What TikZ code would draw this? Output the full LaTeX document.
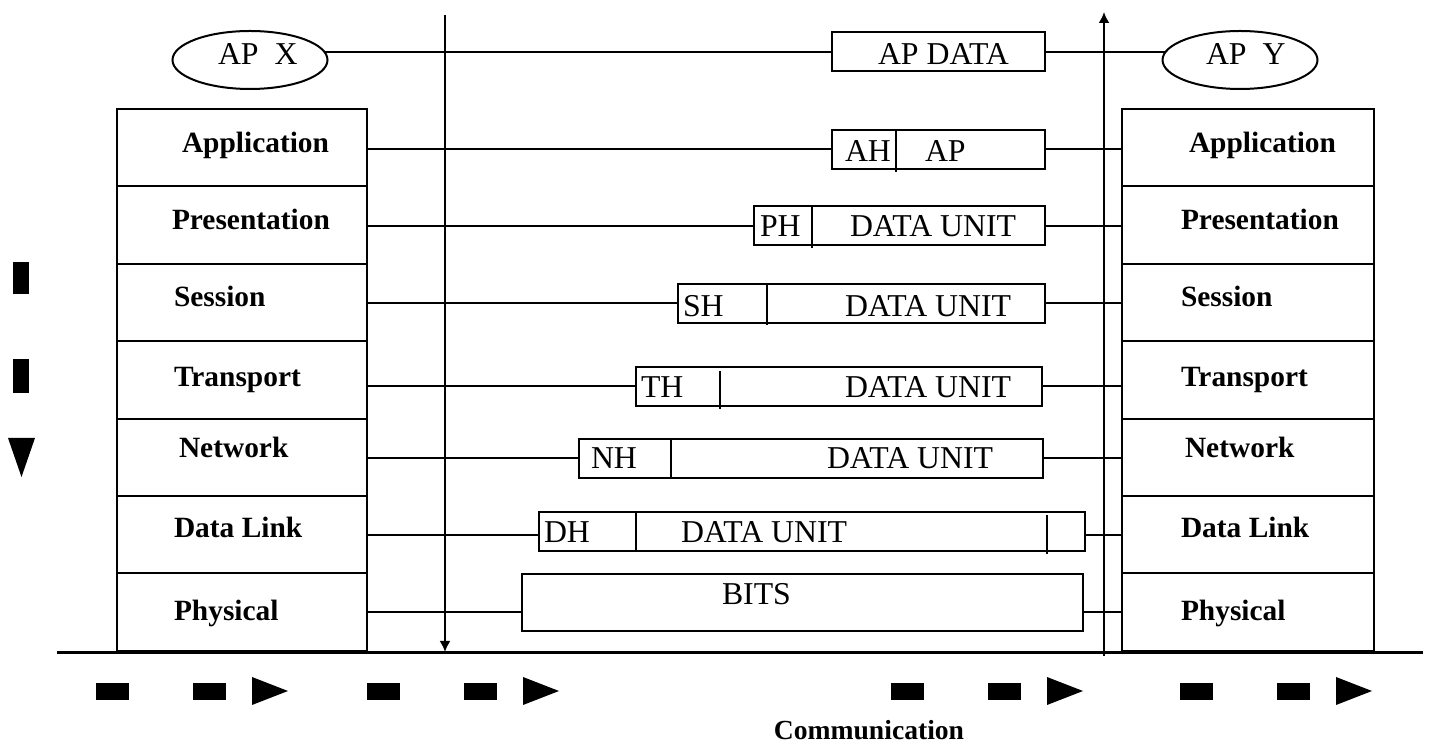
\documentclass[tikz,border=0pt]{standalone}
\usepackage{fontspec}
\setmainfont{Liberation Serif}
\usetikzlibrary{shapes.geometric,arrows.meta}

\begin{document}
\begin{tikzpicture}[x=0.5pt,y=-0.5pt,line width=1pt,
  layer/.style={draw, minimum width=125pt, minimum height=38.7pt, inner sep=0pt, outer sep=0pt},
  rlayer/.style={layer, minimum width=126pt},
  lbl/.style={font=\bfseries\fontsize{14.7}{17}\selectfont, anchor=base west, inner sep=0pt},
  pdu/.style={draw, inner sep=0pt, outer sep=0pt, minimum height=19.5pt},
  txt/.style={font=\fontsize{15.9}{18}\selectfont, anchor=base west, inner sep=0pt},
  apbox/.style={draw, ellipse, minimum width=77.5pt, minimum height=29pt, inner sep=0pt, outer sep=0pt},
  solidmark/.style={fill=black},
  flowarrow/.style={-{Latex[length=5.5pt,width=5.5pt]}}]

\fill[white] (0,0) rectangle (1430,747);
\useasboundingbox (0,0) rectangle (1430,747);

% ---------- protocol stacks ----------
\foreach \n/\t/\lx/\rx/\ly [count=\k] in {
  1/Application/181/1188/153,
  2/Presentation/171/1180/230,
  3/Session/173/1180/307,
  4/Transport/173/1180/387,
  5/Network/178/1184/458,
  6/Data Link/173/1180/538,
  7/Physical/173/1180/621}{
  \node[layer]  (L\n) at (242, 109+77.4*\k-38.7) {};
  \node[rlayer] (R\n) at (1248,109+77.4*\k-38.7) {};
  \node[lbl] (Lt\n) at (\lx,\ly) {\t};
  \node[lbl] (Rt\n) at (\rx,\ly) {\t};
}

% ---------- application processes ----------
\node[apbox] (apx) at (250,60) {};
\node[apbox] (apy) at (1240,60) {};
\node[txt] (apxt) at (217,65) {AP~~X};
\node[txt] (apyt) at (1205,65) {AP~~Y};

% ---------- data units ----------
\node[pdu, minimum width=106.5pt] (apdata) at (938.5,51.5) {};
\node[pdu, minimum width=106.5pt] (ah)     at (938.5,149.5) {};
\node[pdu, minimum width=145.5pt] (ph)     at (899.5,226) {};
\node[pdu, minimum width=183.5pt] (sh)     at (861.5,303.5) {};
\node[pdu, minimum width=203pt]   (th)     at (839,386.5) {};
\node[pdu, minimum width=232pt]   (nh)     at (811,458.5) {};
\node[pdu, minimum width=273pt]   (dh)     at (812,531.5) {};
\node[pdu, minimum width=280.5pt, minimum height=28.5pt] (bits) at (802.5,602.5) {};

% header / data dividers
\draw ([xshift=32pt]ah.north west) -- ([xshift=32pt,yshift=-1.5pt]ah.south west);
\draw ([xshift=29pt]ph.north west) -- ([xshift=29pt,yshift=-1.5pt]ph.south west);
\draw ([xshift=44.5pt]sh.north west) -- ([xshift=44.5pt,yshift=-1pt]sh.south west);
\draw ([xshift=42pt,yshift=-2pt]th.north west) -- ([xshift=42pt,yshift=-1.5pt]th.south west);
\draw ([xshift=46pt]nh.north west) -- ([xshift=46pt]nh.south west);
\draw ([xshift=48.5pt]dh.north west) -- ([xshift=48.5pt]dh.south west);
\draw ([xshift=-19pt,yshift=-1.5pt]dh.north east) -- ([xshift=-19pt,yshift=-1.5pt]dh.south east);

% texts of the data units
\node[txt] (t0)  at (877,65)  {AP DATA};
\node[txt] (h1)  at (844,162) {AH};
\node[txt] (d1)  at (924,162) {AP};
\node[txt] (h2)  at (759,237) {PH};
\node[txt] (d2)  at (849,237) {DATA UNIT};
\node[txt] (h3)  at (682,317) {SH};
\node[txt] (d3)  at (844,317) {DATA UNIT};
\node[txt] (h4)  at (640,398) {TH};
\node[txt] (d4)  at (844,398) {DATA UNIT};
\node[txt] (h5)  at (590,469) {NH};
\node[txt] (d5)  at (826,469) {DATA UNIT};
\node[txt] (h6)  at (543,543) {DH};
\node[txt] (d6)  at (680,543) {DATA UNIT};
\node[txt] (d7)  at (721,605) {BITS};

% ---------- peer connections ----------
\draw (apx.6) -- (apx.6 -| apdata.west);
\draw (apdata.east |- apy.174) -- (apy.174);
\foreach \p [count=\k] in {ah,ph,sh,th,nh}{
  \draw (L\k.east |- \p.west) -- (\p.west);
  \draw (\p.east) -- (\p.east -| R\k.west);
}
% the two lowest layers meet their units at the layer's mid-height
\draw (L6.east) -- (L6.east -| dh.west);
\draw (dh.east |- R6.west) -- (R6.west);
\draw (L7.east) -- (L7.east -| bits.west);
\draw (bits.east |- R7.west) -- (R7.west);

% ---------- flow arrows and medium ----------
\coordinate (dtop) at (445,15);
\coordinate (dbot) at (445,652);
\coordinate (utop) at (1104,12);
\coordinate (ubot) at (1104,656);
\draw[flowarrow] (dtop) -- (dbot);
\draw[flowarrow] (ubot) -- (utop);

\coordinate (m1) at (57,653);
\coordinate (m2) at (1423,653);
\draw[line width=1.5pt] (m1) -- (m2);

% downward dashed marker
\fill[solidmark] (13,262) rectangle (29,294);
\fill[solidmark] (13,359) rectangle (29,393);
\fill[solidmark] (8,438) -- (35,438) -- (21.5,477) -- cycle;

% communication direction markers
\foreach \a in {96,367,891,1180}{
  \fill[solidmark] (\a,683) rectangle ++(33,17);
  \fill[solidmark] (\a+97,683) rectangle ++(33,17);
  \fill[solidmark] (\a+156,677) -- (\a+192,691) -- (\a+156,705) -- cycle;
}

\node[font=\bfseries\fontsize{13.8}{16}\selectfont, anchor=base, inner sep=0pt] (comm) at (869,740) {Communication};

\end{tikzpicture}
\end{document}
